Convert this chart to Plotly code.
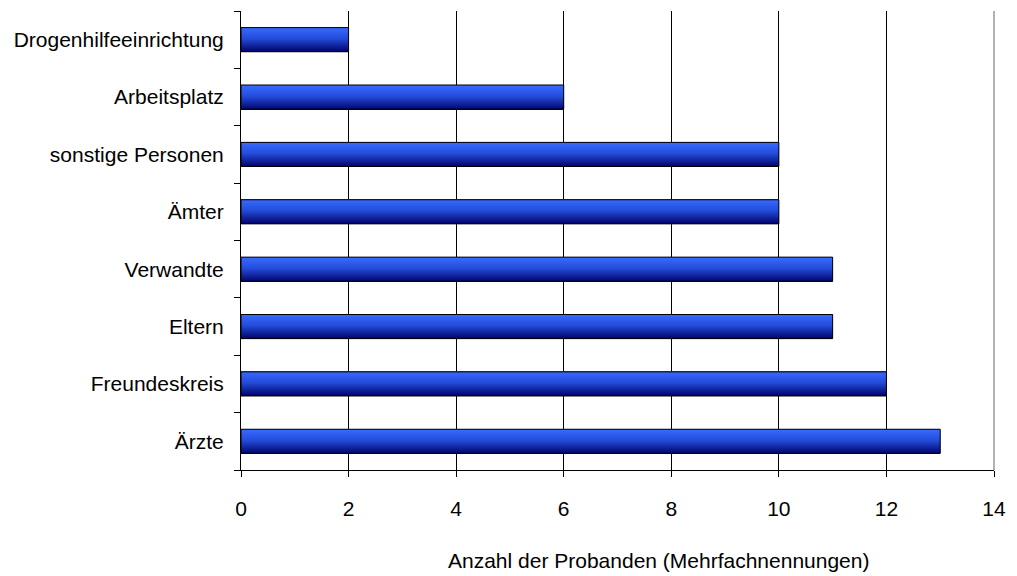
import plotly.graph_objects as go

categories = ["Ärzte", "Freundeskreis", "Eltern", "Verwandte", "Ämter",
              "sonstige Personen", "Arbeitsplatz", "Drogenhilfeeinrichtung"]
values = [13, 12, 11, 11, 10, 10, 6, 2]
x_ticks = [0, 2, 4, 6, 8, 10, 12, 14]
x_title = "Anzahl der Probanden (Mehrfachnennungen)"

FONT = "Liberation Sans, Arial, sans-serif"
FS = 21
BAR_W = 0.42
N_STRIPS = 24

def lerp(c1, c2, t):
    return "rgb(%d,%d,%d)" % tuple(round(a + (b - a) * t) for a, b in zip(c1, c2))

dark = (0, 0, 105)
mid = (35, 75, 215)
bright = (55, 105, 255)

fig = go.Figure()
h = BAR_W / N_STRIPS
for k in range(N_STRIPS):
    t = (k + 0.5) / N_STRIPS  # 0 bottom -> 1 top
    if t < 0.55:
        col = lerp(dark, mid, t / 0.55)
    else:
        col = lerp(mid, bright, (t - 0.55) / 0.45)
    fig.add_trace(go.Bar(
        y=categories, x=values, orientation="h",
        width=h * 1.05, offset=-BAR_W / 2 + k * h,
        marker=dict(color=col, line=dict(width=0)),
        hoverinfo="skip", showlegend=False))

fig.add_trace(go.Bar(
    y=categories, x=values, orientation="h",
    width=BAR_W, offset=-BAR_W / 2,
    marker=dict(color="rgba(0,0,0,0)", line=dict(color="black", width=1)),
    showlegend=False))

fig.update_layout(
    width=1017, height=576,
    margin=dict(l=241, r=17, t=11, b=106),
    paper_bgcolor="white", plot_bgcolor="white",
    barmode="overlay",
    font=dict(family=FONT, size=FS, color="black"),
    xaxis=dict(range=[0, 14], tickvals=x_ticks, showgrid=True, gridcolor="black",
               gridwidth=1, showline=True, linecolor="black", linewidth=1,
               ticks="outside", ticklen=6, tickcolor="black", zeroline=False,
               ticklabelstandoff=14, tickfont=dict(size=FS)),
    yaxis=dict(categoryorder="array", categoryarray=categories,
               showline=True, linecolor="black", linewidth=1,
               ticks="outside", ticklen=6, tickcolor="black", tickson="boundaries",
               showgrid=False, ticklabelstandoff=12, tickfont=dict(size=FS)),
    shapes=[dict(type="line", xref="paper", yref="paper", x0=1, x1=1, y0=0, y1=1,
                 line=dict(color="#999999", width=1.5))],
    annotations=[dict(text=x_title, xref="paper", yref="paper", x=0.555, y=-0.198,
                      xanchor="center", yanchor="middle", showarrow=False,
                      font=dict(size=FS))],
)

fig.write_html("out.html")
